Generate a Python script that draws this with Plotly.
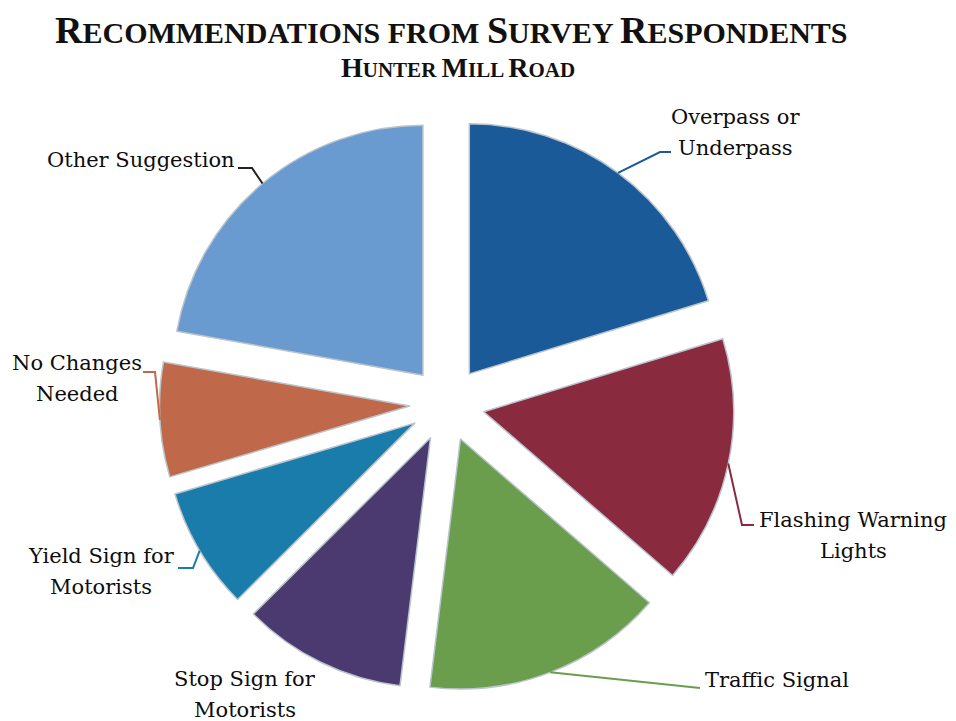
import math
import plotly.graph_objects as go

# ---- data ----
labels = ["Overpass or Underpass", "Flashing Warning Lights", "Traffic Signal",
          "Stop Sign for Motorists", "Yield Sign for Motorists",
          "No Changes Needed", "Other Suggestion"]
values = [20.3, 16.1, 15.6, 10.6, 7.9, 7.4, 22.2]
label_text = ["Overpass or<br>Underpass", "Flashing Warning<br>Lights", "Traffic Signal",
              "Stop Sign for<br>Motorists", "Yield Sign for<br>Motorists",
              "No Changes<br>Needed", "Other Suggestion"]
colors = ["#1B5A98", "#8A2A3E", "#6A9E4C", "#4A3A70", "#1A7CAA", "#C0694A", "#6A9BD0"]

# ---- layout geometry (pixels) ----
W, H = 956, 721
CX, CY, R, PULL = 447, 404, 250, 0.15
D = 2 * R * (1 + PULL)
LINE_GAP = 31

def px(x):
    return x / W

def py(y):
    return 1 - y / H

fig = go.Figure(go.Pie(
    labels=labels, values=values, sort=False, direction="clockwise", rotation=0,
    marker=dict(colors=colors, line=dict(color="#b9c4cc", width=1.5)),
    pull=[PULL] * len(values), textinfo="none", hoverinfo="label+percent",
    domain=dict(x=[px(CX - D / 2), px(CX + D / 2)], y=[py(CY + D / 2), py(CY - D / 2)]),
    showlegend=False,
))

# label placement (text centre, leader elbow, leader end) in pixels
label_pos = [(735, 132), (853, 535), (777, 680), (245, 694), (101, 571), (77, 378), (141, 160)]
leader_pts = [
    [(660, 152), (671, 152)],
    [(742, 525), (754, 525)],
    [(700, 688)],
    None,
    [(193, 568), (178, 568)],
    [(155, 372), (143, 372)],
    [(252, 168), (238, 168)],
]
line_colors = ["#1B5A98", "#8A2A3E", "#6A9E4C", None, "#1A7CAA", "#C0694A", "#222222"]

total = sum(values)
acc = 0.0
shapes = []
annotations = []
for i, v in enumerate(values):
    a0 = acc / total * 360
    acc += v
    a1 = acc / total * 360
    m = math.radians((a0 + a1) / 2)
    ax = CX + R * (1 + PULL) * math.sin(m)
    ay = CY - R * (1 + PULL) * math.cos(m)
    if leader_pts[i]:
        pts = [(ax, ay)] + leader_pts[i]
        path = "M " + " L ".join(f"{px(x):.5f},{py(y):.5f}" for x, y in pts)
        shapes.append(dict(type="path", path=path, xref="paper", yref="paper",
                           line=dict(color=line_colors[i], width=2)))
    tx, ty = label_pos[i]
    parts = label_text[i].split("<br>")
    y0 = ty - (len(parts) - 1) * LINE_GAP / 2
    for k, part in enumerate(parts):
        annotations.append(dict(text=part, x=px(tx), y=py(y0 + k * LINE_GAP),
                                xref="paper", yref="paper",
                                showarrow=False, xanchor="center", yanchor="middle",
                                font=dict(family="DejaVu Serif", size=21, color="#0d0d0d")))

def smallcaps(words, small):
    out = []
    for w in words:
        out.append(f"{w[0]}<span style='font-size:{small}px'>{w[1:].upper()}</span>")
    return f"<span style='font-size:{small}px'> </span>".join(out)

title_txt = "<b>" + smallcaps(["Recommendations", "from", "Survey", "Respondents"], 30) + "</b>"
# "from" is all small caps
title_txt = title_txt.replace("f<span style='font-size:30px'>ROM</span>",
                              "<span style='font-size:30px'>FROM</span>")
sub_txt = "<b>" + smallcaps(["Hunter", "Mill", "Road"], 21) + "</b>"

annotations.append(dict(text=title_txt, x=px(451), y=py(30), xref="paper", yref="paper",
                        showarrow=False, xanchor="center", yanchor="middle",
                        font=dict(family="Liberation Serif", size=38, color="#111111")))
annotations.append(dict(text=sub_txt, x=px(458), y=py(68), xref="paper", yref="paper",
                        showarrow=False, xanchor="center", yanchor="middle",
                        font=dict(family="Liberation Serif", size=28, color="#111111")))

fig.update_layout(width=W, height=H, margin=dict(l=0, r=0, t=0, b=0),
                  paper_bgcolor="white", plot_bgcolor="white",
                  shapes=shapes, annotations=annotations)

fig.write_html("out.html")
